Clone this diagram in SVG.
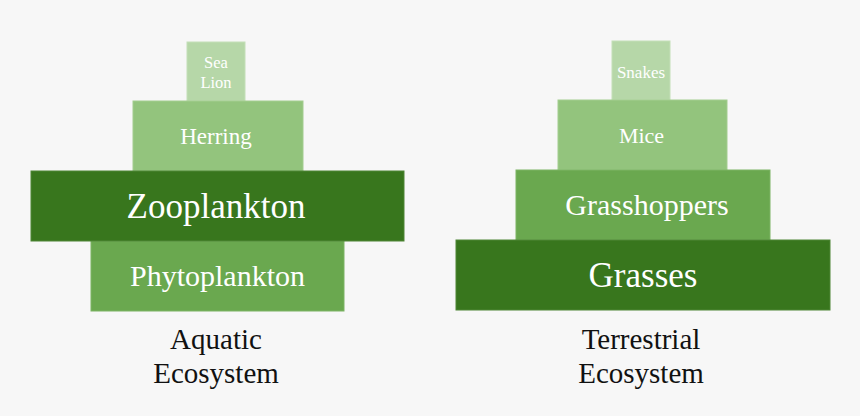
<svg xmlns="http://www.w3.org/2000/svg" width="860" height="416" viewBox="0 0 860 416">
<style>
.t{font-family:"Liberation Serif","Times New Roman",serif;fill:#ffffff;text-anchor:middle}
.lbl{font-family:"Liberation Serif","Times New Roman",serif;fill:#111111;text-anchor:middle;font-size:29px}
.l1{fill:#b6d7a8;stroke:#c4dfb8;stroke-width:1}
.l2{fill:#93c47d;stroke:#a3cd90;stroke-width:1}
.l3{fill:#6aa84f;stroke:#7cb464;stroke-width:1}
.l4{fill:#38761d;stroke:#4e8636;stroke-width:1}
</style>
<rect width="860" height="416" fill="#f7f7f7"/>
<g id="aquatic">
<g id="sealion"><rect class="l1" x="187" y="42" width="58" height="59"/><text class="t" x="216" y="68" font-size="16.5">Sea</text><text class="t" x="216" y="88" font-size="16.5">Lion</text></g>
<g id="herring"><rect class="l2" x="133" y="101" width="170" height="70"/><text class="t" x="216" y="144" font-size="23">Herring</text></g>
<g id="phytoplankton"><rect class="l3" x="91" y="241" width="253" height="70"/><text class="t" x="217.5" y="286" font-size="30">Phytoplankton</text></g>
<g id="zooplankton"><rect class="l4" x="31" y="171" width="373" height="70"/><text class="t" x="216" y="218" font-size="35">Zooplankton</text></g>
<text class="lbl" x="216" y="349">Aquatic</text>
<text class="lbl" x="216" y="383">Ecosystem</text>
</g>
<g id="terrestrial">
<g id="snakes"><rect class="l1" x="612" y="41" width="58" height="59"/><text class="t" x="641" y="78" font-size="17">Snakes</text></g>
<g id="mice"><rect class="l2" x="558" y="100" width="169" height="70"/><text class="t" x="641.5" y="143" font-size="22">Mice</text></g>
<g id="grasshoppers"><rect class="l3" x="516" y="170" width="254" height="70"/><text class="t" x="647" y="215" font-size="30">Grasshoppers</text></g>
<g id="grasses"><rect class="l4" x="456" y="240" width="374" height="70"/><text class="t" x="643" y="287" font-size="35">Grasses</text></g>
<text class="lbl" x="641" y="349">Terrestrial</text>
<text class="lbl" x="641" y="383">Ecosystem</text>
</g>
<g id="connectors"/>
</svg>
